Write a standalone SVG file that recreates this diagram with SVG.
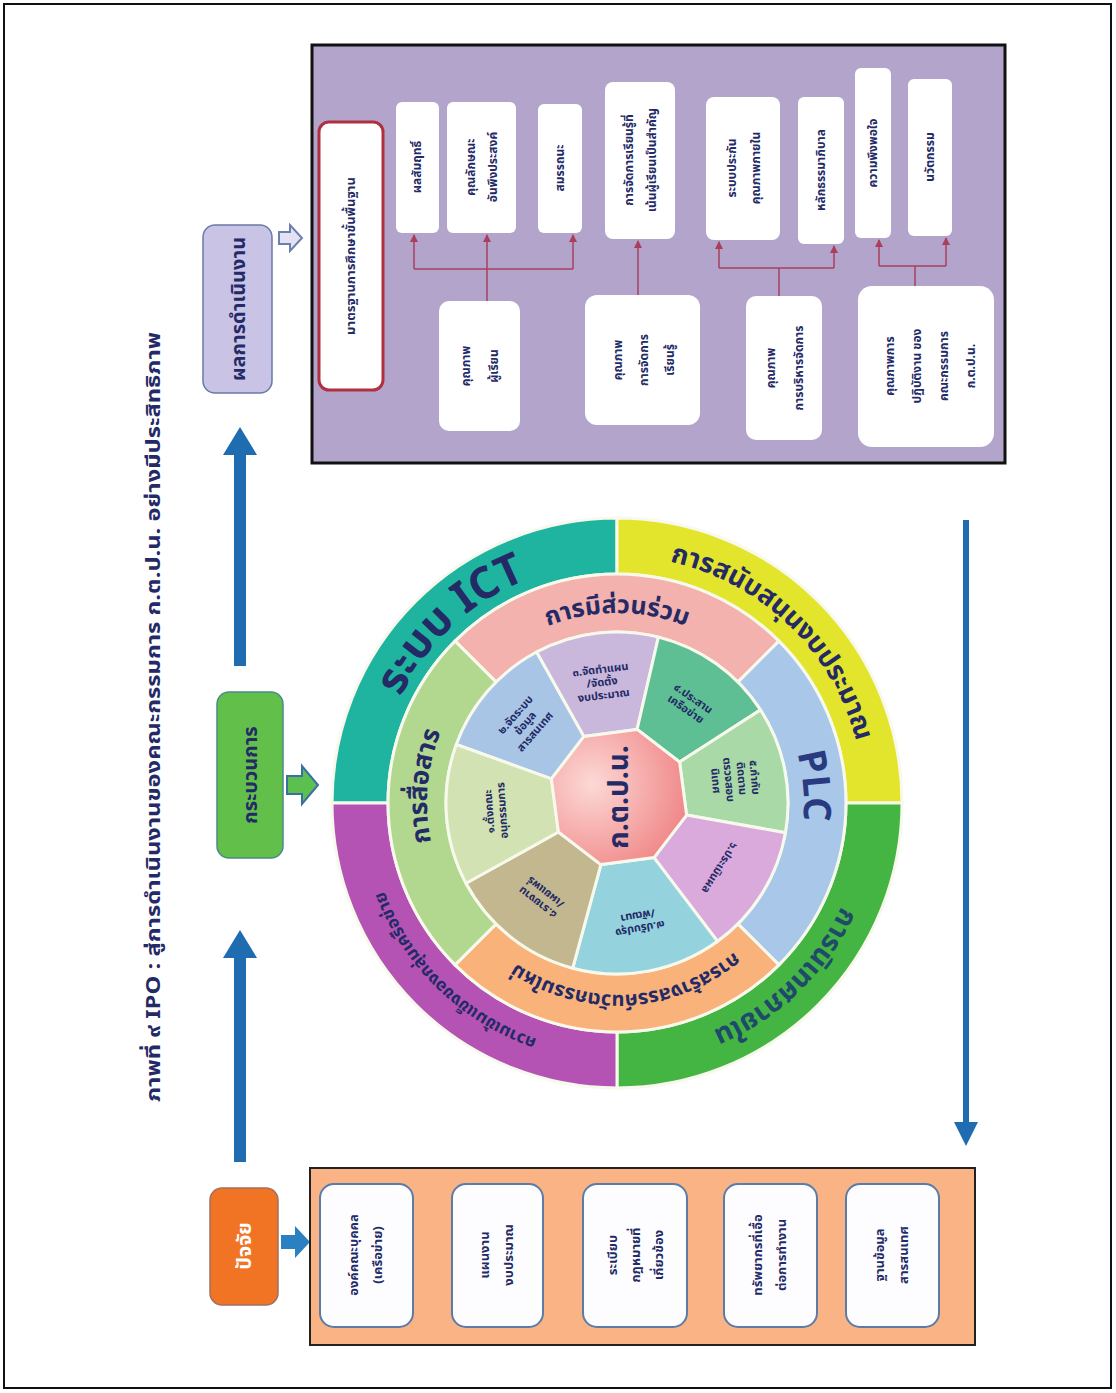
<svg xmlns="http://www.w3.org/2000/svg" width="1116" height="1393" viewBox="0 0 1116 1393">
<defs>
<style>
.t{font-family:'Noto Sans Thai','Noto Sans','DejaVu Sans',sans-serif;font-weight:bold;fill:#232a66}
.hd{font-size:20px;text-anchor:middle}
.bx{font-size:13px;text-anchor:middle}
.ob{font-size:12px;text-anchor:middle}
.wd{font-size:11px;text-anchor:middle}
.rl{text-anchor:middle}
.wbox{fill:#fdfdff;stroke:#5b7ba8;stroke-width:2}
.pbox{fill:#ffffff}
.sep{stroke:#f7f9ec;stroke-width:3}
.con{stroke:#a8405c;stroke-width:1.5;fill:none}
.big{fill:#1f6db0}
</style>
<marker id="ra" markerWidth="8" markerHeight="8" refX="7" refY="4" orient="auto" markerUnits="userSpaceOnUse">
<path d="M0,0 L8,4 L0,8 z" fill="#a8405c"/>
</marker>
<radialGradient id="octg" cx="0.3" cy="0.4" r="0.8">
<stop offset="0" stop-color="#fcd9d6"/>
<stop offset="1" stop-color="#ef7f80"/>
</radialGradient>
<path id="pICT" d="M 782 980 A 242 242 0 0 1 452 626 A 242 242 0 0 1 782 980"/>
<path id="pBUD" d="M 445.4 980.7 A 247 247 0 0 1 788.6 625.3 A 247 247 0 0 1 445.4 980.7"/>
<path id="pNIT" d="M 445.4 625.3 A 247 247 0 0 1 788.6 980.7 A 247 247 0 0 1 445.4 625.3"/>
<path id="pNET" d="M 790 623.9 A 249 249 0 0 1 444 982.1 A 249 249 0 0 1 790 623.9"/>
<path id="pPAR" d="M 617 993 A 190 190 0 0 1 617 613 A 190 190 0 0 1 617 993"/>
<path id="pPLC" d="M 430.7 819.3 A 187 187 0 0 1 803.3 786.7 A 187 187 0 0 1 430.7 819.3"/>
<path id="pINN" d="M 607 611.3 A 192 192 0 0 1 627 994.7 A 192 192 0 0 1 607 611.3"/>
<path id="pCOM" d="M 806.3 819.6 A 190 190 0 0 1 427.7 786.4 A 190 190 0 0 1 806.3 819.6"/>
</defs>

<rect x="0" y="0" width="1116" height="1393" fill="#ffffff"/>
<rect id="frame" x="4" y="4" width="1107" height="1384" fill="none" stroke="#111" stroke-width="2"/>

<!-- title -->
<g id="title">
<text class="t" font-size="20" text-anchor="middle" fill="#1f2d5c" transform="translate(160,717) rotate(-90)" textLength="770" lengthAdjust="spacingAndGlyphs">ภาพที่ ๙ IPO : สู่การดำเนินงานของคณะกรรมการ ก.ต.ป.น. อย่างมีประสิทธิภาพ</text>
</g>

<!-- headers -->
<g id="node-output-header">
<rect x="203" y="225" width="69" height="168" rx="12" fill="#c9c3e6" stroke="#6a7aa8" stroke-width="1.5"/>
<text class="t hd" transform="translate(245,309) rotate(-90)">ผลการดำเนินงาน</text>
</g>
<g id="node-process-header">
<rect x="217" y="692" width="66" height="166" rx="12" fill="#62bf4a" stroke="#4c8a8a" stroke-width="1.5"/>
<text class="t hd" transform="translate(257,775) rotate(-90)">กระบวนการ</text>
</g>
<g id="node-input-header">
<rect x="210" y="1188" width="68" height="117" rx="12" fill="#f07424" stroke="#a07060" stroke-width="1.5"/>
<text class="t hd" style="fill:#ffffff" transform="translate(251,1246) rotate(-90)">ปัจจัย</text>
</g>

<!-- connectors -->
<g id="connectors">
<polygon class="big" points="234,1162 234,958 223,958 240,930 257,958 246,958 246,1162"/>
<polygon class="big" points="234,666 234,455 223,455 240,427 257,455 246,455 246,666"/>
<polygon points="281,1235 295,1235 295,1226 310,1242 295,1258 295,1249 281,1249" fill="#2a80c0"/>
<polygon points="287,776 302,776 302,766 318,785 302,804 302,794 287,794" fill="#5cc050" stroke="#3a70a0" stroke-width="2"/>
<polygon points="279,232 290,232 290,225 302,238 290,251 290,244 279,244" fill="#e4e2f2" stroke="#6a80b0" stroke-width="2"/>
<line x1="966" y1="520" x2="966" y2="1124" stroke="#1f6db0" stroke-width="6"/>
<polygon points="954,1122 978,1122 966,1146" fill="#1f6db0"/>
</g>

<!-- output panel -->
<g id="node-output-panel">
<rect x="312" y="45" width="693" height="418" fill="#b3a4cb" stroke="#111" stroke-width="3"/>
<rect x="319" y="122" width="64" height="268" rx="10" fill="#fff" stroke="#b03040" stroke-width="3"/>
<text class="t" font-size="13" text-anchor="middle" transform="translate(355,256) rotate(-90)">มาตรฐานการศึกษาขั้นพื้นฐาน</text>
</g>
<g id="node-out-achieve"><rect class="pbox" x="396" y="102" width="43" height="131" rx="6"/>
<text class="t ob" transform="translate(421,167) rotate(-90)">ผลสัมฤทธิ์</text></g>
<g id="node-out-char"><rect class="pbox" x="447" y="102" width="69" height="131" rx="6"/>
<text class="t ob" transform="translate(481,167) rotate(-90)"><tspan x="0" y="-6">คุณลักษณะ</tspan><tspan x="0" y="16">อันพึงประสงค์</tspan></text></g>
<g id="node-out-comp"><rect class="pbox" x="538" y="104" width="44" height="129" rx="6"/>
<text class="t ob" transform="translate(564,168) rotate(-90)">สมรรถนะ</text></g>
<g id="node-out-learn"><rect class="pbox" x="605" y="82" width="70" height="157" rx="8"/>
<text class="t ob" transform="translate(640,160) rotate(-90)"><tspan x="0" y="-7">การจัดการเรียนรู้ที่</tspan><tspan x="0" y="16">เน้นผู้เรียนเป็นสำคัญ</tspan></text></g>
<g id="node-out-qa"><rect class="pbox" x="706" y="97" width="74" height="143" rx="8"/>
<text class="t ob" transform="translate(743,168) rotate(-90)"><tspan x="0" y="-7">ระบบประกัน</tspan><tspan x="0" y="17">คุณภาพภายใน</tspan></text></g>
<g id="node-out-gov"><rect class="pbox" x="798" y="97" width="46" height="147" rx="6"/>
<text class="t ob" transform="translate(825,170) rotate(-90)">หลักธรรมาภิบาล</text></g>
<g id="node-out-sat"><rect class="pbox" x="855" y="68" width="36" height="170" rx="6"/>
<text class="t ob" transform="translate(877,153) rotate(-90)">ความพึงพอใจ</text></g>
<g id="node-out-inno"><rect class="pbox" x="908" y="79" width="44" height="157" rx="6"/>
<text class="t ob" transform="translate(934,157) rotate(-90)">นวัตกรรม</text></g>

<g id="node-q-student"><rect class="pbox" x="439" y="301" width="81" height="130" rx="10"/>
<text class="t ob" transform="translate(479,366) rotate(-90)"><tspan x="0" y="-9">คุณภาพ</tspan><tspan x="0" y="19">ผู้เรียน</tspan></text></g>
<g id="node-q-learn"><rect class="pbox" x="585" y="295" width="115" height="130" rx="12"/>
<text class="t ob" transform="translate(642,360) rotate(-90)"><tspan x="0" y="-20">คุณภาพ</tspan><tspan x="0" y="6">การจัดการ</tspan><tspan x="0" y="32">เรียนรู้</tspan></text></g>
<g id="node-q-admin"><rect class="pbox" x="746" y="296" width="76" height="144" rx="10"/>
<text class="t ob" transform="translate(784,368) rotate(-90)"><tspan x="0" y="-9">คุณภาพ</tspan><tspan x="0" y="19">การบริหารจัดการ</tspan></text></g>
<g id="node-q-board"><rect class="pbox" x="858" y="286" width="136" height="161" rx="14"/>
<text class="t ob" transform="translate(926,366) rotate(-90)"><tspan x="0" y="-32">คุณภาพการ</tspan><tspan x="0" y="-5">ปฏิบัติงาน ของ</tspan><tspan x="0" y="22">คณะกรรมการ</tspan><tspan x="0" y="49">ก.ต.ป.น.</tspan></text></g>

<g id="connectors-output">
<line class="con" x1="414" y1="269" x2="573" y2="269"/>
<line class="con" x1="414" y1="269" x2="414" y2="235" marker-end="url(#ra)"/>
<line class="con" x1="487" y1="301" x2="487" y2="235" marker-end="url(#ra)"/>
<line class="con" x1="573" y1="269" x2="573" y2="235" marker-end="url(#ra)"/>
<line class="con" x1="638" y1="295" x2="638" y2="241" marker-end="url(#ra)"/>
<line class="con" x1="719" y1="268" x2="834" y2="268"/>
<line class="con" x1="779" y1="268" x2="779" y2="296"/>
<line class="con" x1="719" y1="268" x2="719" y2="242" marker-end="url(#ra)"/>
<line class="con" x1="834" y1="268" x2="834" y2="246" marker-end="url(#ra)"/>
<line class="con" x1="879" y1="266" x2="946" y2="266"/>
<line class="con" x1="915" y1="266" x2="915" y2="286"/>
<line class="con" x1="879" y1="266" x2="879" y2="240" marker-end="url(#ra)"/>
<line class="con" x1="946" y1="266" x2="946" y2="238" marker-end="url(#ra)"/>
</g>

<!-- input panel -->
<g id="node-input-panel">
<rect x="310" y="1168" width="665" height="177" fill="#f9b385" stroke="#222" stroke-width="2"/>
</g>
<g id="node-in-network"><rect class="wbox" x="320" y="1184" width="93" height="143" rx="14"/>
<text class="t bx" transform="translate(366,1255) rotate(-90)"><tspan x="0" y="-8">องค์คณะบุคคล</tspan><tspan x="0" y="16">(เครือข่าย)</tspan></text></g>
<g id="node-in-plan"><rect class="wbox" x="452" y="1184" width="91" height="143" rx="14"/>
<text class="t bx" transform="translate(497,1255) rotate(-90)"><tspan x="0" y="-8">แผนงาน</tspan><tspan x="0" y="16">งบประมาณ</tspan></text></g>
<g id="node-in-law"><rect class="wbox" x="583" y="1184" width="104" height="143" rx="14"/>
<text class="t bx" transform="translate(635,1255) rotate(-90)"><tspan x="0" y="-18">ระเบียบ</tspan><tspan x="0" y="5">กฎหมายที่</tspan><tspan x="0" y="28">เกี่ยวข้อง</tspan></text></g>
<g id="node-in-resource"><rect class="wbox" x="724" y="1184" width="93" height="143" rx="14"/>
<text class="t bx" transform="translate(770,1255) rotate(-90)"><tspan x="0" y="-8">ทรัพยากรที่เอื้อ</tspan><tspan x="0" y="16">ต่อการทำงาน</tspan></text></g>
<g id="node-in-data"><rect class="wbox" x="846" y="1184" width="93" height="143" rx="14"/>
<text class="t bx" transform="translate(892,1255) rotate(-90)"><tspan x="0" y="-8">ฐานข้อมูล</tspan><tspan x="0" y="16">สารสนเทศ</tspan></text></g>

<!-- wheel -->
<g id="node-wheel-outer">
<path class="sep" fill="#1fb4a0" d="M 332 803 A 285 285 0 0 1 617 518 L 617 574 A 229 229 0 0 0 388 803 Z"/>
<path class="sep" fill="#e3e52c" d="M 617 518 A 285 285 0 0 1 902 803 L 846 803 A 229 229 0 0 0 617 574 Z"/>
<path class="sep" fill="#44b443" d="M 902 803 A 285 285 0 0 1 617 1088 L 617 1032 A 229 229 0 0 0 846 803 Z"/>
<path class="sep" fill="#b553b4" d="M 617 1088 A 285 285 0 0 1 332 803 L 388 803 A 229 229 0 0 0 617 1032 Z"/>
<text class="t rl" font-size="44"><textPath href="#pICT" startOffset="50%">ระบบ ICT</textPath></text>
<text class="t rl" font-size="27"><textPath href="#pBUD" startOffset="50%">การสนับสนุนงบประมาณ</textPath></text>
<text class="t rl" font-size="28" style="fill:#1f4a6a"><textPath href="#pNIT" startOffset="50%">การนิเทศภายใน</textPath></text>
<text class="t rl" font-size="17"><textPath href="#pNET" startOffset="50%">ความเข้มแข็งของกลุ่มเครือข่าย</textPath></text>
</g>
<g id="node-wheel-middle">
<path class="sep" fill="#f4b2ae" d="M 455.1 641.1 A 229 229 0 0 1 778.9 641.1 L 737.9 682.1 A 171 171 0 0 0 496.1 682.1 Z"/>
<path class="sep" fill="#a9c7e8" d="M 778.9 641.1 A 229 229 0 0 1 778.9 964.9 L 737.9 923.9 A 171 171 0 0 0 737.9 682.1 Z"/>
<path class="sep" fill="#f8b27a" d="M 778.9 964.9 A 229 229 0 0 1 455.1 964.9 L 496.1 923.9 A 171 171 0 0 0 737.9 923.9 Z"/>
<path class="sep" fill="#b2d78f" d="M 455.1 964.9 A 229 229 0 0 1 455.1 641.1 L 496.1 682.1 A 171 171 0 0 0 496.1 923.9 Z"/>
<text class="t rl" font-size="25"><textPath href="#pPAR" startOffset="50%">การมีส่วนร่วม</textPath></text>
<text class="t rl" font-size="38" style="fill:#2a3a80"><textPath href="#pPLC" startOffset="50%">PLC</textPath></text>
<text class="t rl" font-size="20"><textPath href="#pINN" startOffset="50%">การสร้างสรรค์นวัตกรรมใหม่</textPath></text>
<text class="t rl" font-size="26"><textPath href="#pCOM" startOffset="50%">การสื่อสาร</textPath></text>
</g>
<g id="node-wheel-steps">
<path class="sep" fill="#a9c5e6" d="M 551.4 778.9 L 456.3 744.5 A 171 171 0 0 1 536.7 652.0 L 584.0 736.4 Z"/>
<path class="sep" fill="#c9b8dc" d="M 584.0 736.4 L 536.7 652.0 A 171 171 0 0 1 658.4 637.1 L 637.1 729.4 Z"/>
<path class="sep" fill="#5fbf94" d="M 637.1 729.4 L 658.4 637.1 A 171 171 0 0 1 760.4 709.9 L 679.6 762.0 Z"/>
<path class="sep" fill="#a9d9a6" d="M 679.6 762.0 L 760.4 709.9 A 171 171 0 0 1 785.4 832.7 L 686.6 815.1 Z"/>
<path class="sep" fill="#d9aadb" d="M 686.6 815.1 L 785.4 832.7 A 171 171 0 0 1 717.5 941.3 L 654.0 857.6 Z"/>
<path class="sep" fill="#94d3de" d="M 654.0 857.6 L 717.5 941.3 A 171 171 0 0 1 572.7 968.2 L 600.9 864.6 Z"/>
<path class="sep" fill="#c2b78e" d="M 600.9 864.6 L 572.7 968.2 A 171 171 0 0 1 466.0 883.3 L 558.4 832.0 Z"/>
<path class="sep" fill="#d2e2b2" d="M 558.4 832.0 L 466.0 883.3 A 171 171 0 0 1 456.3 744.5 L 551.4 778.9 Z"/>
<text class="t wd" transform="translate(525,723) rotate(-49)"><tspan x="0" y="-9">๒.จัดระบบ</tspan><tspan x="0" y="4">ข้อมูล</tspan><tspan x="0" y="17">สารสนเทศ</tspan></text>
<text class="t wd" transform="translate(602,682) rotate(-7)"><tspan x="0" y="-9">๓.จัดทำแผน</tspan><tspan x="0" y="4">/จัดตั้ง</tspan><tspan x="0" y="17">งบประมาณ</tspan></text>
<text class="t wd" transform="translate(690,703) rotate(35)"><tspan x="0" y="-2">๔.ประสาน</tspan><tspan x="0" y="11">เครือข่าย</tspan></text>
<text class="t wd" transform="translate(736,779) rotate(85)"><tspan x="0" y="-15">๕.กำกับ</tspan><tspan x="0" y="-2">ติดตาม</tspan><tspan x="0" y="11">ตรวจสอบ</tspan><tspan x="0" y="24">นิเทศ</tspan></text>
<text class="t wd" transform="translate(720,868) rotate(122)"><tspan x="0" y="4">๖.ประเมินผล</tspan></text>
<text class="t wd" transform="translate(639,923) rotate(170)"><tspan x="0" y="-2">๗.ปรับปรุง</tspan><tspan x="0" y="11">/พัฒนา</tspan></text>
<text class="t wd" transform="translate(541,898) rotate(218)"><tspan x="0" y="-2">๘.รายงาน</tspan><tspan x="0" y="11">/เผยแพร่</tspan></text>
<text class="t wd" transform="translate(495,811) rotate(-94)"><tspan x="0" y="-2">๑.ตั้งคณะ</tspan><tspan x="0" y="11">อนุกรรมการ</tspan></text>
</g>
<g id="node-center">
<polygon points="551.4,778.9 584.0,736.4 637.1,729.4 679.6,762.0 686.6,815.1 654.0,857.6 600.9,864.6 558.4,832.0" fill="url(#octg)" stroke="#f7f9ec" stroke-width="3"/>
<text class="t" font-size="28" text-anchor="middle" transform="translate(628,797) rotate(-90)">ก.ต.ป.น.</text>
</g>
</svg>
